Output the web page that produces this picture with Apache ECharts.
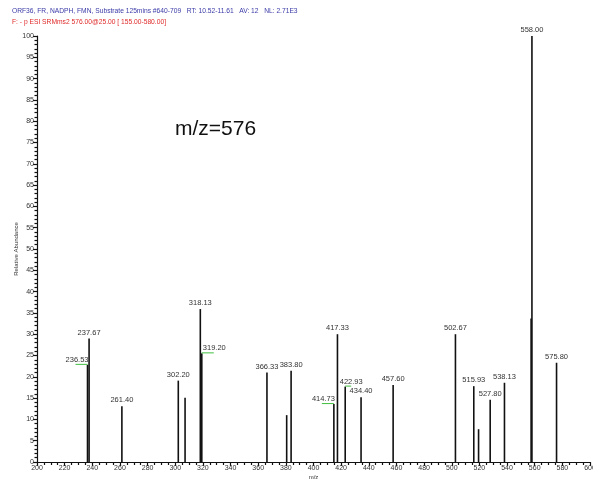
<!DOCTYPE html>
<html>
<head>
<meta charset="utf-8">
<script src="https://cdn.jsdelivr.net/npm/echarts@6/dist/echarts.min.js"></script>
<style>
  html, body { margin: 0; padding: 0; background: #fff; }
  #chart { width: 593px; height: 482px; }
</style>
</head>
<body>
<div id="chart"></div>
<script>
// MS2 spectrum of m/z 576 (stick plot)
const peakMz =        [236.53, 237.67, 261.40, 302.20, 307.10, 318.13, 319.20, 366.33, 380.60, 383.80, 414.73, 417.33, 422.93, 434.40, 457.60, 502.67, 515.93, 519.40, 527.80, 538.13, 557.40, 558.00, 575.80];
const peakIntensity = [22.8,   29.0,   13.1,   19.1,   15.1,   35.9,   25.5,   21.0,   11.0,   21.4,   13.6,   30.0,   17.7,   15.2,   18.1,   30.0,   17.8,   7.7,    14.6,   18.6,   33.7,   100,    23.3];
const peakLabels =    ['236.53','237.67','261.40','302.20','','318.13','319.20','366.33','','383.80','414.73','417.33','422.93','434.40','457.60','502.67','515.93','','527.80','538.13','','558.00','575.80'];

const yTicks = [0, 5, 10, 15, 20, 25, 30, 35, 40, 45, 50, 55, 60, 65, 70, 75, 80, 85, 90, 95, 100];
const xTicks = [200, 220, 240, 260, 280, 300, 320, 340, 360, 380, 400, 420, 440, 460, 480, 500, 520, 540, 560, 580, 600];

const titleLine1 = 'ORF36, FR, NADPH, FMN, Substrate 125mins #640-709   RT: 10.52-11.61   AV: 12   NL: 2.71E3';
const titleLine2 = 'F: - p ESI SRMms2 576.00@25.00 [ 155.00-580.00]';
const precursorText = 'm/z=576';

// label placement for peaks whose annotation sits beside the stick (green leader)
const sideLabels = {
  '236.53': { side: 'left' },
  '319.20': { side: 'right' },
  '414.73': { side: 'left' },
  '422.93': { side: 'rightShift' }
};

const data = peakMz.map((m, i) => [m, peakIntensity[i], peakLabels[i]]);

const chart = echarts.init(document.getElementById('chart'), null, { renderer: 'canvas' });

const FONT = 'Liberation Sans, Arial, sans-serif';

function renderPeak(params, api) {
  const mz = api.value(0);
  const inten = api.value(1);
  const label = peakLabels[params.dataIndex];
  const base = api.coord([mz, 0]);
  const top = api.coord([mz, inten]);
  const children = [{
    type: 'line',
    shape: { x1: base[0], y1: base[1], x2: top[0], y2: top[1] },
    style: { stroke: '#111', lineWidth: 1.6 }
  }];
  if (label) {
    const side = sideLabels[label];
    if (!side) {
      children.push({
        type: 'text',
        style: { text: label, x: top[0], y: top[1] - 2, align: 'center', verticalAlign: 'bottom',
                 font: '7.5px ' + FONT, fill: '#333' }
      });
    } else {
      let tx, align, gx1, gx2;
      if (side.side === 'left') {
        tx = top[0] + 1; align = 'right'; gx1 = top[0] - 12; gx2 = top[0];
      } else if (side.side === 'right') {
        tx = top[0] + 1; align = 'left'; gx1 = top[0]; gx2 = top[0] + 12;
      } else {
        tx = top[0] + 6; align = 'center'; gx1 = top[0]; gx2 = top[0] + 6;
      }
      children.push({
        type: 'line',
        shape: { x1: gx1, y1: top[1] - 0.5, x2: gx2, y2: top[1] - 0.5 },
        style: { stroke: '#3fbf3f', lineWidth: 1 }
      });
      children.push({
        type: 'text',
        style: { text: label, x: tx, y: top[1] - 1, align: align, verticalAlign: 'bottom',
                 font: '7.5px ' + FONT, fill: '#333' }
      });
    }
  }
  return { type: 'group', children: children };
}

const option = {
  backgroundColor: '#fff',
  animation: false,
  graphic: [
    { type: 'text', left: 12, top: 8,
      style: { text: titleLine1, font: '6.7px ' + FONT, fill: '#3a3aa8' } },
    { type: 'text', left: 12, top: 19,
      style: { text: titleLine2, font: '6.7px ' + FONT, fill: '#e02a2a' } },
    { type: 'text', left: 175, top: 119,
      style: { text: precursorText, font: '21px ' + FONT, fill: '#111' } }
  ],
  grid: { left: 37, right: 3, top: 36, bottom: 20, containLabel: false, outerBoundsMode: 'none' },
  xAxis: {
    type: 'value',
    min: 200, max: 600, interval: 20,
    name: 'm/z', nameLocation: 'middle', nameGap: 12, nameMoveOverlap: false,
    nameTextStyle: { fontSize: 6, color: '#333', fontFamily: FONT },
    axisLine: { show: true, lineStyle: { color: '#111', width: 1.2 } },
    axisTick: { show: true, length: 4, lineStyle: { color: '#111', width: 1.2 } },
    minorTick: { show: true, splitNumber: 4, length: 3, lineStyle: { color: '#111', width: 1.2 } },
    axisLabel: { fontSize: 7, color: '#333', fontFamily: FONT, margin: 3,
                 formatter: v => (xTicks.indexOf(v) >= 0 ? String(v) : '') },
    splitLine: { show: false }
  },
  yAxis: {
    type: 'value',
    min: 0, max: 100, interval: 5,
    name: 'Relative Abundance', nameLocation: 'middle', nameGap: 18, nameMoveOverlap: false,
    nameTextStyle: { fontSize: 6, color: '#333', fontFamily: FONT },
    axisLine: { show: true, lineStyle: { color: '#111', width: 1.2 } },
    axisTick: { show: true, length: 4, lineStyle: { color: '#111', width: 1.2 } },
    minorTick: { show: true, splitNumber: 5, length: 2.5, lineStyle: { color: '#111', width: 1.2 } },
    axisLabel: { fontSize: 7, color: '#333', fontFamily: FONT, margin: 3,
                 formatter: v => (yTicks.indexOf(v) >= 0 ? String(v) : '') },
    splitLine: { show: false }
  },
  series: [{
    type: 'custom',
    renderItem: renderPeak,
    data: data,
    encode: { x: 0, y: 1 },
    clip: false
  }]
};

chart.setOption(option);
</script>
</body>
</html>
